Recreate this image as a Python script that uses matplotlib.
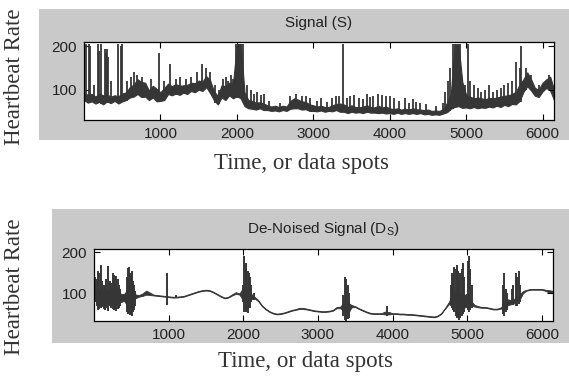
import numpy as np
import matplotlib
matplotlib.use('Agg')
import matplotlib.pyplot as plt
from matplotlib.patches import Rectangle

# sample index grid (every 50 data spots) and band envelope
spots = list(range(0, 6151, 50))

# Signal (S): lower / upper edge of the dense trace
sig_lo = [76, 70, 73, 68, 72, 66, 73, 69, 74, 68, 73, 76, 82, 84, 90, 83, 84, 76, 82, 73,
          74, 76, 90, 87, 91, 88, 93, 90, 97, 94, 100, 97, 106, 92, 76, 66, 82, 76, 87, 80,
          85, 80, 62, 57, 56, 54, 57, 53, 53, 51, 52, 50, 53, 51, 56, 57, 57, 54, 55, 51,
          51, 50, 52, 49, 51, 50, 53, 49, 49, 46, 49, 47, 48, 46, 49, 47, 47, 46, 47, 45,
          46, 44, 47, 44, 46, 44, 46, 44, 46, 43, 44, 42, 43, 42, 45, 48, 56, 60, 62, 58,
          59, 57, 60, 57, 59, 58, 61, 59, 63, 60, 65, 62, 67, 66, 74, 95, 108, 98, 86, 83,
          96, 104, 98, 76]
sig_hi = [93, 88, 90, 84, 91, 87, 89, 84, 87, 85, 91, 94, 106, 112, 124, 118, 116, 98, 109, 102,
          94, 104, 114, 108, 113, 109, 110, 111, 116, 115, 121, 119, 131, 122, 96, 86, 110, 108, 116, 114,
          205, 205, 94, 76, 74, 70, 71, 68, 64, 61, 63, 60, 63, 61, 74, 80, 77, 73, 72, 66,
          64, 61, 63, 60, 60, 64, 67, 68, 66, 60, 64, 60, 59, 61, 64, 60, 59, 63, 59, 61,
          57, 55, 57, 54, 56, 54, 57, 55, 54, 53, 54, 51, 52, 51, 55, 70, 90, 205, 205, 118,
          88, 84, 80, 82, 80, 78, 81, 80, 82, 84, 86, 87, 90, 95, 112, 124, 140, 124, 104, 100,
          116, 124, 130, 100]

# isolated spikes in Signal (S)
sig_spike_x = [30, 60, 75, 130, 180, 200, 225, 270, 290, 300, 320, 350, 450, 480, 500, 560,
               620, 660, 700, 760, 880, 975, 1050, 1130, 1200, 1260, 1330, 1400, 1480, 1550,
               1600, 1650, 1720, 1760, 1820, 1860, 1880, 1920, 1950, 1990, 2010, 2030, 2060,
               2080, 2130, 2180, 2230, 2270, 2320, 2350, 2420, 2560, 2700, 2780, 2850, 2900,
               2960, 3050, 3100, 3180, 3250, 3300, 3340, 3390, 3440, 3480, 3530, 3600, 3650,
               3700, 3740, 3780, 3850, 3900, 3950, 4000, 4050, 4120, 4200, 4250, 4300, 4350,
               4400, 4480, 4600, 4700, 4730, 4760, 4790, 4830, 4860, 4880, 4920, 4980, 5020,
               5050, 5100, 5150, 5200, 5250, 5300, 5350, 5400, 5450, 5500, 5550, 5600, 5650,
               5700, 5720, 5780, 5850, 5950, 6080]
sig_spike_lo = [75, 72, 72, 72, 70, 70, 68, 72, 70, 72, 70, 70, 72, 72, 72, 75,
                85, 85, 88, 85, 80, 75, 78, 90, 88, 92, 90, 95, 98, 100,
                105, 95, 70, 68, 80, 78, 85, 85, 85, 80, 80, 80, 80,
                80, 60, 55, 55, 55, 55, 54, 52, 52, 55, 56, 55, 54,
                52, 52, 50, 50, 52, 52, 50, 50, 47, 47, 48, 47, 47,
                48, 48, 48, 47, 46, 47, 45, 46, 46, 46, 45, 45, 46,
                45, 45, 42, 44, 45, 48, 50, 55, 60, 60, 62, 58, 58,
                60, 58, 60, 58, 60, 60, 62, 62, 63, 64, 65, 66, 68,
                72, 72, 100, 100, 85, 105]
sig_spike_hi = [205, 205, 200, 110, 205, 190, 205, 195, 185, 195, 175, 120, 205, 200, 205, 120,
                130, 140, 135, 130, 125, 185, 120, 160, 125, 130, 125, 130, 140, 160,
                150, 140, 110, 100, 125, 130, 120, 135, 125, 205, 205, 205, 205,
                205, 110, 100, 90, 95, 88, 90, 75, 70, 85, 90, 85, 85,
                80, 75, 80, 72, 80, 85, 85, 205, 80, 85, 88, 80, 78,
                90, 82, 85, 90, 88, 85, 85, 80, 75, 80, 70, 78, 72,
                70, 68, 62, 70, 95, 120, 150, 205, 205, 200, 205, 110, 205,
                120, 110, 105, 95, 100, 110, 95, 100, 105, 110, 115, 120, 165,
                150, 200, 150, 135, 110, 135]

# De-Noised Signal (Ds): lower / upper edge
den_lo = [90, 75, 72, 80, 74, 72, 72, 78, 82, 70, 62, 88, 92, 94, 97, 96, 95, 94, 93, 92,
          91, 90, 90, 91, 92, 95, 98, 101, 104, 106, 107, 106, 102, 97, 92, 88, 90, 95, 99, 97,
          82, 78, 86, 88, 81, 69, 61, 55, 51, 49, 50, 52, 55, 58, 60, 62, 62, 61, 59, 57,
          56, 55, 55, 56, 58, 64, 64, 55, 50, 66, 67, 62, 58, 54, 51, 50, 50, 50, 49, 49,
          50, 50, 49, 49, 48, 48, 47, 46, 45, 44, 43, 42, 44, 50, 62, 73, 78, 70, 60, 65,
          68, 72, 68, 66, 65, 65, 63, 61, 61, 63, 65, 72, 74, 78, 84, 101, 107, 109, 109, 109,
          109, 106, 102, 100]
den_hi = [108, 110, 112, 105, 112, 115, 112, 100, 98, 110, 112, 98, 96, 100, 107, 102, 97, 96, 95, 94,
          93, 92, 92, 93, 94, 97, 100, 103, 106, 108, 109, 108, 104, 99, 94, 90, 92, 98, 103, 100,
          115, 112, 100, 92, 84, 71, 63, 57, 53, 51, 52, 54, 57, 60, 62, 65, 65, 63, 61, 59,
          58, 57, 57, 58, 60, 67, 68, 80, 78, 72, 69, 64, 60, 56, 53, 52, 52, 52, 56, 55,
          52, 52, 51, 51, 50, 50, 49, 48, 47, 46, 45, 44, 46, 52, 64, 78, 95, 105, 100, 95,
          100, 82, 72, 69, 67, 67, 65, 63, 63, 66, 75, 86, 82, 90, 98, 106, 109, 111, 111, 111,
          111, 109, 108, 106]

den_spike_x = [10, 20, 35, 50, 70, 90, 110, 130, 150, 165, 185, 210, 230, 250, 265, 280,
               300, 315, 330, 350, 440, 455, 470, 480, 495, 505, 520, 530, 545, 980, 1100,
               1990, 2010, 2030, 2040, 2060, 2080, 2095, 2110, 2150, 3340, 3360, 3370, 3380,
               3400, 3410, 3420, 3920, 4780, 4800, 4815, 4830, 4845, 4860, 4875, 4890, 4910,
               4925, 4940, 4960, 5010, 5020, 5040, 5060, 5480, 5500, 5520, 5540, 5600, 5620,
               5650, 5670, 5690, 5710]
den_spike_lo = [85, 80, 70, 60, 62, 65, 68, 62, 60, 65, 58, 70, 65, 62, 60, 60,
                58, 62, 65, 70, 55, 50, 52, 48, 48, 45, 55, 60, 70, 72, 88,
                80, 55, 60, 55, 52, 65, 65, 80, 85, 45, 35, 33, 35,
                38, 40, 45, 45, 70, 65, 60, 55, 45, 40, 40, 35, 40,
                45, 50, 55, 60, 55, 60, 65, 50, 45, 55, 60, 75, 72,
                70, 70, 75, 80]
den_spike_hi = [125, 140, 135, 155, 150, 170, 130, 120, 115, 135, 167, 130, 125, 150, 145, 140,
                142, 135, 120, 110, 140, 163, 165, 150, 145, 155, 130, 120, 105, 150, 96,
                120, 190, 175, 165, 155, 150, 140, 120, 100, 95, 140, 135, 110,
                120, 100, 80, 70, 120, 150, 140, 165, 160, 170, 155, 130, 150,
                160, 175, 140, 180, 190, 160, 120, 120, 150, 110, 100, 110, 120,
                150, 140, 155, 120]

W, H = 569, 377
line_c = '#363636'
panel_c = '#c9c9c9'


def fig_box(l, t, r, b):
    return [l / W, 1 - b / H, (r - l) / W, (b - t) / H]


fig = plt.figure(figsize=(W / 100, H / 100), dpi=100, facecolor='white')

for l, t, r, b in [(39, 9, 569, 140), (52, 209, 569, 343)]:
    x0, y0, w, h = fig_box(l, t, r, b)
    fig.add_artist(Rectangle((x0, y0), w, h, transform=fig.transFigure,
                             facecolor=panel_c, edgecolor='none', zorder=-5))

ax1 = fig.add_axes(fig_box(84, 42, 554, 120))
ax2 = fig.add_axes(fig_box(94, 249, 553, 321))

ax1.fill_between(spots, sig_lo, sig_hi, facecolor=line_c, edgecolor=line_c, linewidth=0.8)
ax1.vlines(sig_spike_x, sig_spike_lo, sig_spike_hi, colors=line_c, linewidth=1.3)
ax2.fill_between(spots, den_lo, den_hi, facecolor=line_c, edgecolor=line_c, linewidth=0.6)
ax2.vlines(den_spike_x, den_spike_lo, den_spike_hi, colors=line_c, linewidth=1.4)

ax1.set_ylim(30, 210)
ax2.set_ylim(33, 208)

for ax in (ax1, ax2):
    ax.set_facecolor('white')
    ax.set_xlim(0, 6150)
    ax.set_xticks([1000, 2000, 3000, 4000, 5000, 6000])
    ax.set_yticks([100, 200])
    ax.tick_params(direction='in', length=4, width=0.8, top=True, right=True,
                   labelsize=11, pad=5, colors='black')
    for lab in ax.get_xticklabels() + ax.get_yticklabels():
        lab.set_fontfamily('Liberation Sans')
        lab.set_color('#222222')
    for s in ax.spines.values():
        s.set_linewidth(0.9)

plt.rcParams['mathtext.default'] = 'regular'
fig.text(319 / W, 1 - 23 / H, 'Signal (S)', ha='center', va='center',
         fontsize=11, family='Liberation Sans', color='#222222')
fig.text(323 / W, 1 - 229 / H, 'De-Noised Signal (D$_{S}$)', ha='center', va='center',
         fontsize=11, family='Liberation Sans', color='#222222')

fig.text(302 / W, 1 - 164 / H, 'Time, or data spots', ha='center', va='center',
         fontsize=16.5, family='Liberation Serif', color='#333333')
fig.text(305 / W, 1 - 362 / H, 'Time, or data spots', ha='center', va='center',
         fontsize=16.5, family='Liberation Serif', color='#333333')
fig.text(15 / W, 1 - 77 / H, 'Heartbeat Rate', ha='center', va='center', rotation=90,
         fontsize=16.5, family='Liberation Serif', color='#333333')
fig.text(15 / W, 1 - 287 / H, 'Heartbeat Rate', ha='center', va='center', rotation=90,
         fontsize=16.5, family='Liberation Serif', color='#333333')

fig.savefig('out.png', dpi=100, facecolor='white')
